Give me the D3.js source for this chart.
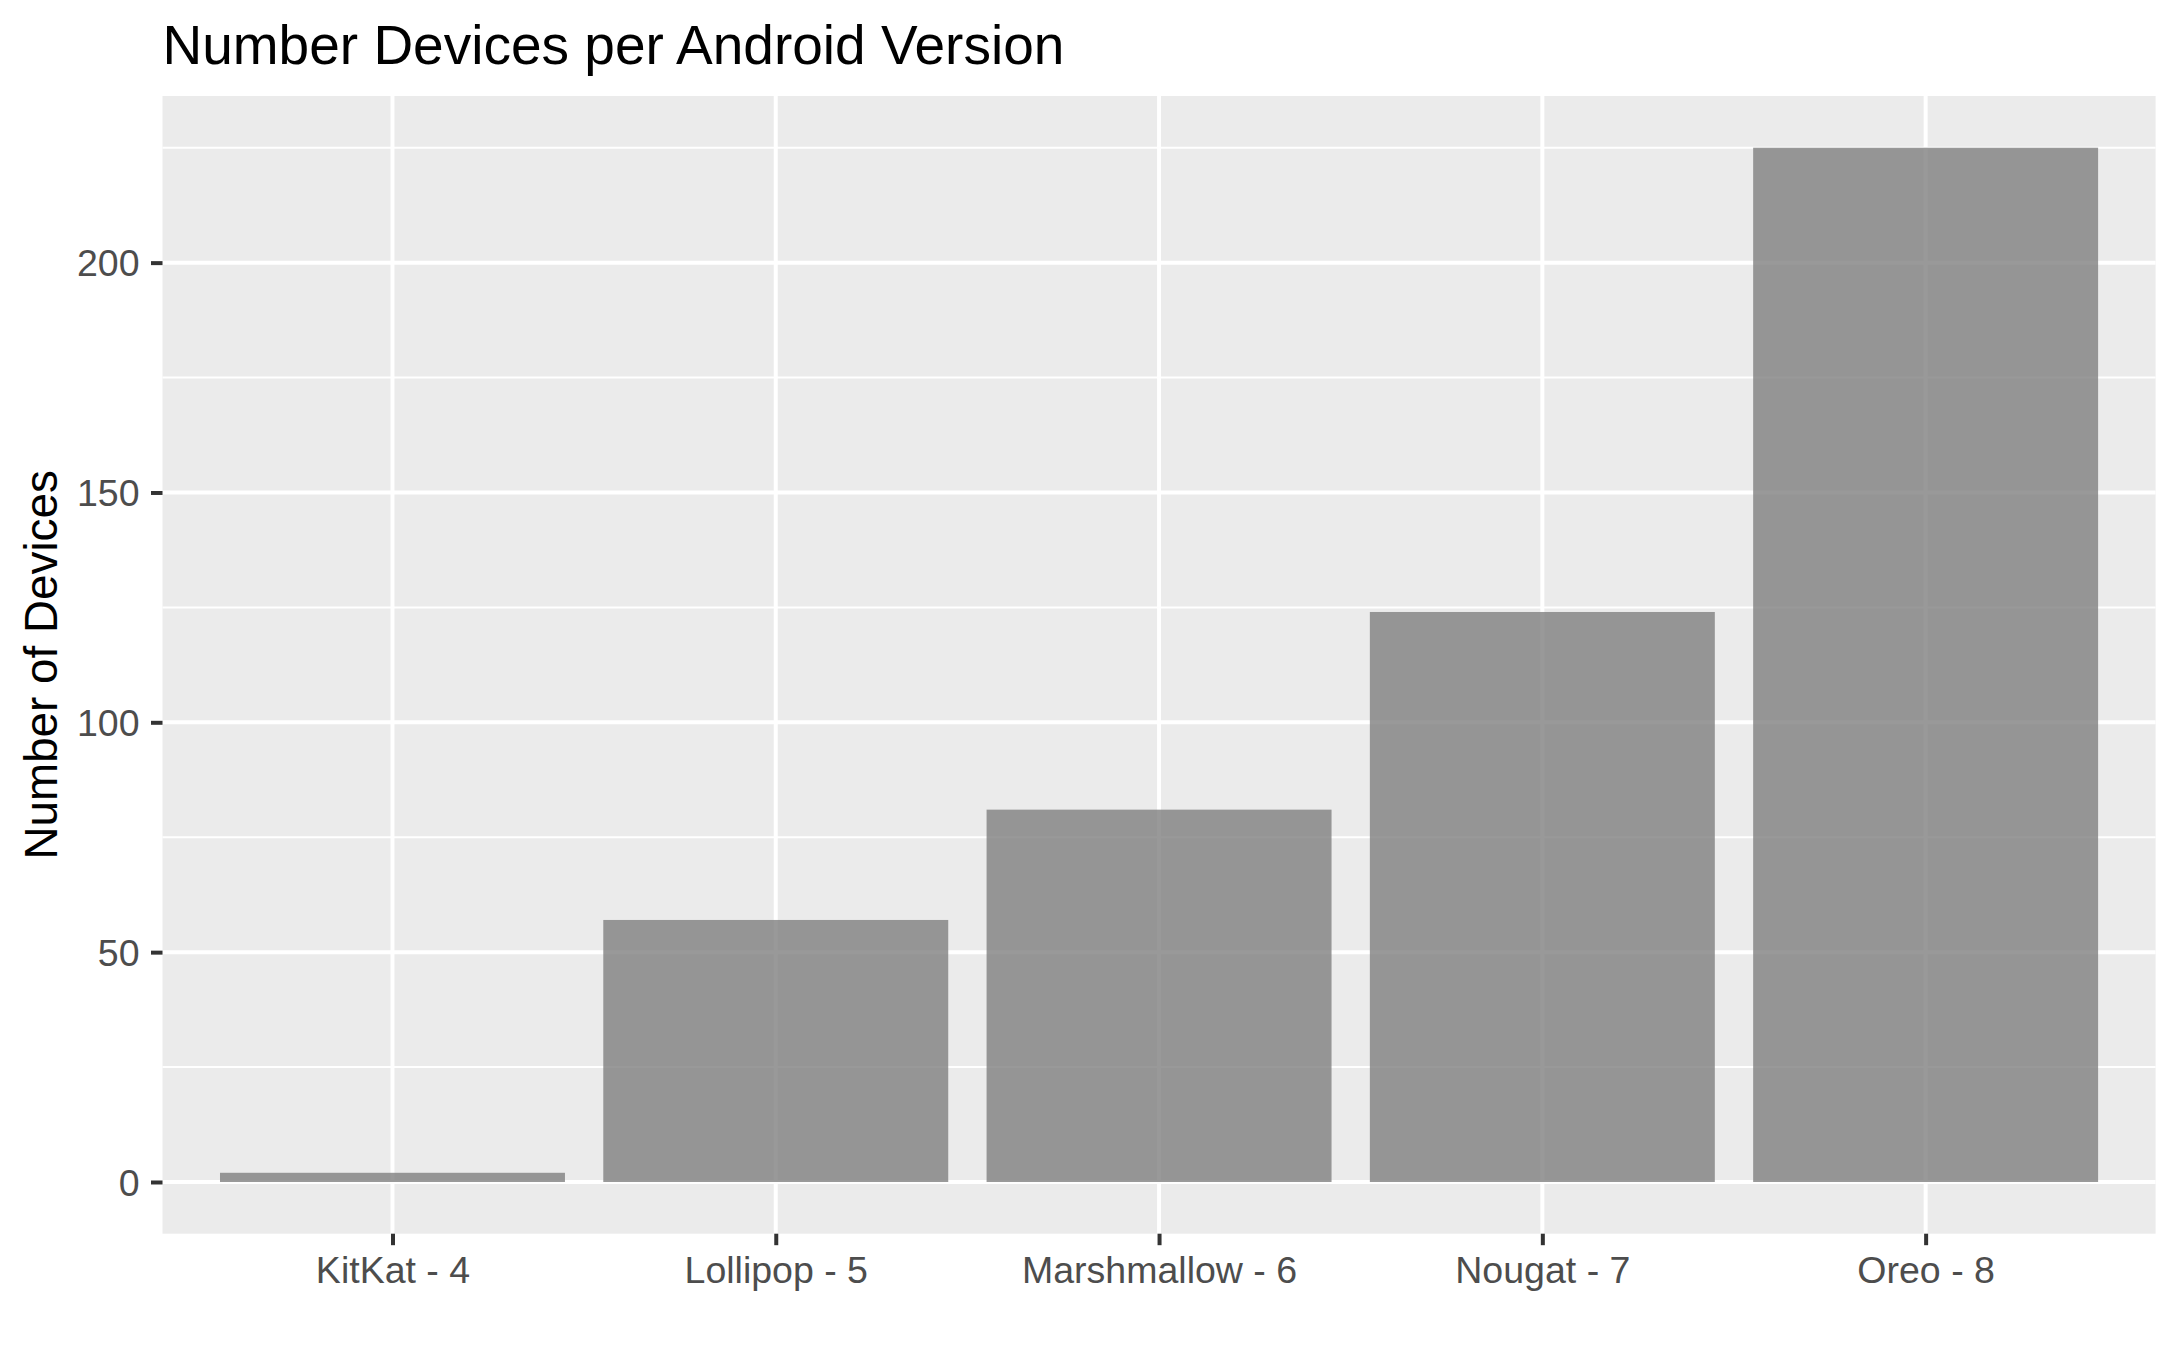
<!DOCTYPE html>
<html><head><meta charset="utf-8">
<script src="https://cdn.jsdelivr.net/npm/d3@7"></script>
<style>html,body{margin:0;padding:0;background:#fff;}svg{display:block;font-family:"Liberation Sans",Arial,sans-serif;}</style>
</head><body>
<script>
const categories = ["KitKat - 4","Lollipop - 5","Marshmallow - 6","Nougat - 7","Oreo - 8"];
const counts = [2, 57, 81, 124, 225];
const yTicks = [0, 50, 100, 150, 200];
const yMinor = [25, 75, 125, 175, 225];
const title = "Number Devices per Android Version";
const yTitle = "Number of Devices";

const W = 2178, H = 1371;
const panel = {left: 162.5, right: 2155.6, top: 96, bottom: 1233.7};

const svg = d3.select("body").append("svg").attr("width", W).attr("height", H);
svg.append("rect").attr("width", W).attr("height", H).attr("fill", "#fff");

const maxV = d3.max(counts);
// ggplot discrete: 0.6 units expansion each side, bar width 0.9
const n = categories.length;
const unit = (panel.right - panel.left) / (n - 1 + 1.2);
const xc = d3.scalePoint().domain(categories).range([panel.left + 0.6*unit, panel.right - 0.6*unit]);
const y = d3.scaleLinear().domain([-0.05*maxV, maxV*1.05]).range([panel.bottom, panel.top]);

svg.append("rect").attr("x", panel.left).attr("y", panel.top)
  .attr("width", panel.right - panel.left).attr("height", panel.bottom - panel.top).attr("fill", "#EBEBEB");

const g = svg.append("g");
g.selectAll(".minor").data(yMinor).join("line")
  .attr("x1", panel.left).attr("x2", panel.right)
  .attr("y1", d => y(d)).attr("y2", d => y(d))
  .attr("stroke", "#fff").attr("stroke-width", 2);
g.selectAll(".majorY").data(yTicks).join("line")
  .attr("x1", panel.left).attr("x2", panel.right)
  .attr("y1", d => y(d)).attr("y2", d => y(d))
  .attr("stroke", "#fff").attr("stroke-width", 4);
g.selectAll(".majorX").data(categories).join("line")
  .attr("y1", panel.top).attr("y2", panel.bottom)
  .attr("x1", d => xc(d)).attr("x2", d => xc(d))
  .attr("stroke", "#fff").attr("stroke-width", 4);

const bw = 0.9 * unit;
svg.selectAll(".bar").data(categories).join("rect")
  .attr("x", d => xc(d) - bw/2)
  .attr("width", bw)
  .attr("y", (d,i) => y(counts[i]))
  .attr("height", (d,i) => y(0) - y(counts[i]))
  .attr("fill", "#7F7F7F").attr("fill-opacity", 0.8);

// Y axis
const yAxis = d3.axisLeft(y).tickValues(yTicks).tickSize(11.5).tickPadding(6);
const ya = svg.append("g").attr("transform", `translate(${panel.left},0)`).call(yAxis);
ya.select(".domain").remove();
ya.selectAll(".tick line").attr("stroke", "#333333").attr("stroke-width", 4);
ya.selectAll(".tick text").attr("fill", "#4D4D4D").attr("font-size", 37.5).attr("font-family", "Liberation Sans, Arial, sans-serif").attr("dy", "0.35em").attr("x", -23);

// X axis
const xAxis = d3.axisBottom(xc).tickSize(11.5).tickPadding(6);
const xa = svg.append("g").attr("transform", `translate(0,${panel.bottom})`).call(xAxis);
xa.select(".domain").remove();
xa.selectAll(".tick line").attr("stroke", "#333333").attr("stroke-width", 4);
xa.selectAll(".tick text").attr("fill", "#4D4D4D").attr("font-size", 37.5).attr("font-family", "Liberation Sans, Arial, sans-serif")
  .attr("dy", null).attr("y", 0).attr("transform", "translate(0,49)");

// Titles
svg.append("text").attr("x", panel.left).attr("y", 63.5)
  .attr("font-size", 55).attr("fill", "#000").text(title);
svg.append("text").attr("transform", `translate(57,${(panel.top+panel.bottom)/2}) rotate(-90)`)
  .attr("text-anchor", "middle").attr("font-size", 45.8).attr("fill", "#000").text(yTitle);
</script>
</body></html>
